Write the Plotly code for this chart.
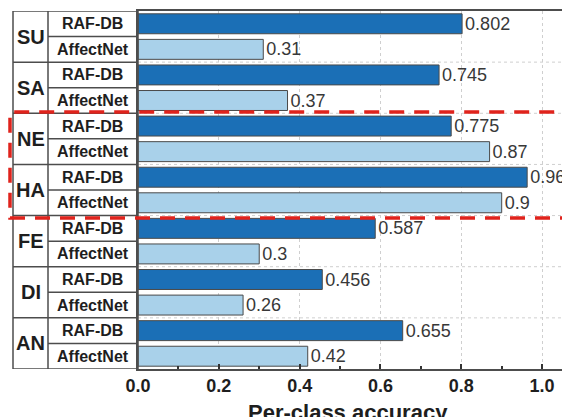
import plotly.graph_objects as go

emotions = ["SU", "SA", "NE", "HA", "FE", "DI", "AN"]
datasets = ["RAF-DB", "AffectNet"]
raf_db = [0.802, 0.745, 0.775, 0.963, 0.587, 0.456, 0.655]
affectnet = [0.31, 0.37, 0.87, 0.9, 0.3, 0.26, 0.42]
raf_labels = ["0.802", "0.745", "0.775", "0.963", "0.587", "0.456", "0.655"]
aff_labels = ["0.31", "0.37", "0.87", "0.9", "0.3", "0.26", "0.42"]
x_ticks = [0.0, 0.2, 0.4, 0.6, 0.8, 1.0]
x_tick_text = ["0.0", "0.2", "0.4", "0.6", "0.8", "1.0"]
x_title = "Per-class accuracy"

FONT = "Liberation Sans, Arial, sans-serif"
DARK = "#1b6fb6"
LIGHT = "#a9d1ea"
EDGE = "#4a4a4a"
TABLE = "#4d4d4d"

rows = []
for e in emotions:
    for d in datasets:
        rows.append(f"{e}|{d}")

fig = go.Figure()
fig.add_trace(go.Bar(
    y=[f"{e}|RAF-DB" for e in emotions], x=raf_db, orientation="h",
    text=raf_labels, textposition="outside", cliponaxis=False, constraintext="none",
    textfont=dict(family=FONT, size=18, color="#383838"),
    marker=dict(color=DARK, line=dict(color=EDGE, width=1)),
    width=0.78, name="RAF-DB", showlegend=False))
fig.add_trace(go.Bar(
    y=[f"{e}|AffectNet" for e in emotions], x=affectnet, orientation="h",
    text=aff_labels, textposition="outside", cliponaxis=False, constraintext="none",
    textfont=dict(family=FONT, size=18, color="#383838"),
    marker=dict(color=LIGHT, line=dict(color=EDGE, width=1)),
    width=0.78, name="AffectNet", showlegend=False))

# page body has an 8px margin; figure sized to fill the window from there
OFF = 8
W, H = 570 - OFF, 417 - OFF
ml, mr, mt, mb = 138 - OFF, 0, 11 - OFF, 48
pw = W - ml - mr
ph = H - mt - mb

def px2paper_x(px):
    return (px - OFF - ml) / pw

def px2paper_y(py):
    return (H - mb - (py - OFF)) / ph

x_outer = px2paper_x(13)
x_div = px2paper_x(48)
n = len(rows)

shapes = []
for g in range(1, len(emotions)):
    yb = 2 * g - 0.5
    shapes.append(dict(type="line", xref="paper", yref="y", x0=0, x1=1, y0=yb, y1=yb,
                       line=dict(color="#cfcfcf", width=1, dash="dot"), layer="below"))
shapes.append(dict(type="rect", xref="paper", yref="y", x0=x_outer, x1=0, y0=-0.5, y1=n - 0.5,
                   line=dict(color=TABLE, width=1.5), fillcolor="rgba(0,0,0,0)"))
shapes.append(dict(type="line", xref="paper", yref="y", x0=x_div, x1=x_div, y0=-0.5, y1=n - 0.5,
                   line=dict(color=TABLE, width=1.5)))
for k in range(1, n):
    yb = k - 0.5
    x_start = x_div if k % 2 == 1 else x_outer
    shapes.append(dict(type="line", xref="paper", yref="y", x0=x_start, x1=0, y0=yb, y1=yb,
                       line=dict(color=TABLE, width=1.5)))
shapes.append(dict(type="rect", xref="paper", yref="paper",
                   x0=px2paper_x(10), x1=1.05, y0=px2paper_y(218), y1=px2paper_y(112),
                   line=dict(color="#e0231c", width=3.5, dash="15px,10px"),
                   fillcolor="rgba(0,0,0,0)", layer="above"))

annotations = []
for i, e in enumerate(emotions):
    annotations.append(dict(text=e, xref="paper", yref="y", x=px2paper_x(30.5), y=2 * i + 0.5,
                            showarrow=False, xanchor="center", yanchor="middle",
                            font=dict(family=FONT, size=20, color="#1e1e1e", weight="bold")))
for r in rows:
    annotations.append(dict(text=r.split("|")[1], xref="paper", yref="y", x=px2paper_x(92.5), y=r,
                            showarrow=False, xanchor="center", yanchor="middle",
                            font=dict(family=FONT, size=16, color="#1e1e1e", weight="bold")))
annotations.append(dict(text=x_title, xref="paper", yref="paper",
                        x=px2paper_x(348), y=px2paper_y(398), xanchor="center", yanchor="top",
                        showarrow=False,
                        font=dict(family=FONT, size=22, color="#1e1e1e", weight="bold")))

fig.update_layout(
    width=W, height=H,
    margin=dict(l=ml, r=mr, t=mt, b=mb, pad=0, autoexpand=False),
    plot_bgcolor="white", paper_bgcolor="white",
    barmode="overlay",
    font=dict(family=FONT),
    shapes=shapes, annotations=annotations,
    xaxis=dict(range=[0, 1.069], tickvals=x_ticks, ticktext=x_tick_text,
               tickfont=dict(family=FONT, size=18, color="#1e1e1e", weight="bold"),
               ticks="inside", ticklen=5, tickwidth=1.5, tickcolor="#333",
               minor=dict(dtick=0.1, tick0=0, ticks="inside", ticklen=3, tickcolor="#333", showgrid=False),
               showgrid=True, gridcolor="#cfcfcf", griddash="dot", gridwidth=1,
               showline=True, linecolor=TABLE, linewidth=1.5, mirror=True, zeroline=False,
               automargin=False),
    yaxis=dict(type="category", categoryarray=rows, range=[n - 0.5, -0.5],
               showticklabels=False, ticks="", showgrid=False, automargin=False,
               showline=True, linecolor=TABLE, linewidth=1.5, mirror=True, zeroline=False),
)

fig.write_html("out.html")
